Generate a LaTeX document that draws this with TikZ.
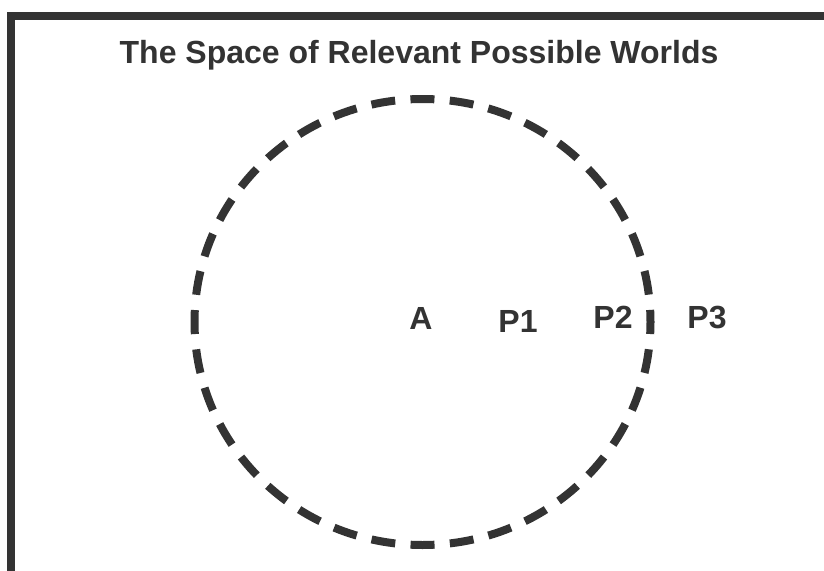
\documentclass[tikz,border=0pt]{standalone}
\usepackage{fontspec}
\setmainfont{Liberation Sans}
\definecolor{ink}{HTML}{333333}
\begin{document}
\begin{tikzpicture}[x=1pt,y=-1pt,
  lbl/.style={text=ink,font=\fontsize{32}{38}\selectfont\bfseries,anchor=base,inner sep=0pt},
  frameline/.style={draw=ink,line width=8pt,line join=miter},
  worlds/.style={draw=ink,line width=8pt,dash pattern=on 24pt off 15.36pt,dash phase=12pt}]
\useasboundingbox[fill=white] (0,0) rectangle (824,570);
\draw[frameline] (11,575) -- (11,16) -- (830,16);
\node[lbl] (title) at (419,63) {The Space of Relevant Possible Worlds};
\coordinate (c) at (422.5,322);
\draw[worlds] (c) ellipse [x radius=228, y radius=223];
\node[lbl] (A) at (421,329) {A};
\node[lbl] (P1) at (518,332) {P1};
\node[lbl] (P2) at (613,328) {P2};
\node[lbl] (P3) at (707,328) {P3};
\end{tikzpicture}
\end{document}
